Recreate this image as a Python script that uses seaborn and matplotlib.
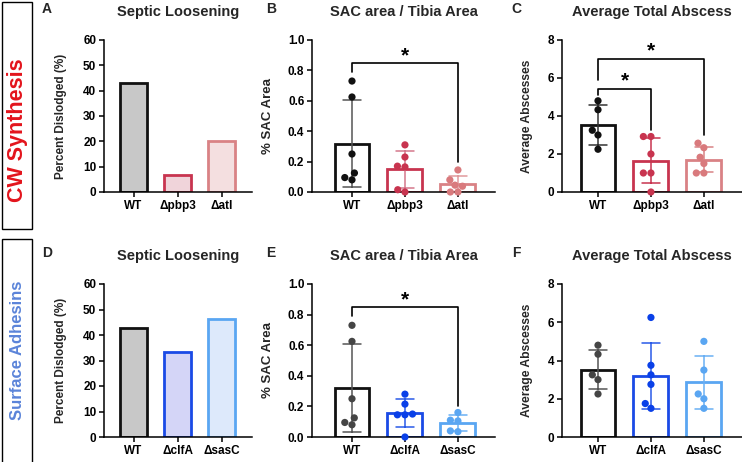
import numpy as np
import pandas as pd
import seaborn as sns
import matplotlib
matplotlib.use('Agg')
import matplotlib.pyplot as plt
from matplotlib.patches import Rectangle

# groups
groups_cw = ["WT", "Δpbp3", "Δatl"]
groups_adh = ["WT", "ΔclfA", "ΔsasC"]

# septic loosening (%)
loosening_cw = [42.9, 6.7, 20.0]
loosening_adh = [42.9, 33.3, 46.2]

# SAC area / tibia area
sac_wt = [0.73, 0.625, 0.25, 0.125, 0.08, 0.095]
sac_pbp3 = [0.31, 0.23, 0.17, 0.165, 0.0, 0.015]
sac_atl = [0.145, 0.08, 0.045, 0.038, 0.0, 0.0]
sac_clfa = [0.28, 0.215, 0.15, 0.145, 0.145, 0.0]
sac_sasc = [0.16, 0.11, 0.105, 0.04, 0.035]

# average total abscess
abs_wt = [4.8, 4.33, 3.25, 3.0, 2.25]
abs_pbp3 = [2.92, 2.92, 2.0, 1.0, 1.0, 0.0]
abs_atl = [2.33, 2.57, 1.83, 1.5, 1.0, 1.0]
abs_clfa = [6.25, 3.75, 3.25, 2.75, 1.75, 1.5]
abs_sasc = [5.0, 3.5, 2.25, 2.0, 1.5]

# significance brackets: (x1, x2, left leg bottom, top, right leg bottom, star y)
sac_brackets = [(0, 2, 0.79, 0.85, 0.20, 0.895)]
abs_brackets_cw = [(0, 1, 5.08, 5.43, 3.27, 5.85), (0, 2, 5.9, 7.0, 3.0, 7.45)]

# colours
fill_cw = ["#c8c8c8", "#f0d4da", "#f4dfe0"]
edge_cw = ["#111111", "#c8344f", "#d98285"]
dot_cw = ["#111111", "#c8344f", "#d97a7d"]
err_cw = ["#555555", "#d5788c", "#e09a9c"]
err_cw2 = ["#333333", "#c8344f", "#d98285"]
fill_adh = ["#c8c8c8", "#d4d5f7", "#dde9fb"]
edge_adh = ["#111111", "#1a4ae6", "#5aa6f2"]
dot_adh = ["#454545", "#0a40e8", "#5aa6f2"]
err_adh = ["#555555", "#2a5ae8", "#6ab0f4"]

sns.set_theme(style="ticks")
plt.rcParams['font.family'] = ['Liberation Sans', 'DejaVu Sans']
plt.rcParams['font.weight'] = 'bold'

W, H = 742, 462
fig = plt.figure(figsize=(W / 100, H / 100), dpi=100)


def px_axes(left, right, bottom, top):
    return fig.add_axes([left / W, 1 - bottom / H, (right - left) / W, (bottom - top) / H])


def finish(ax, xlim, ylim, yticks, fmt, ylabel, lab_x, lab_size):
    sns.despine(ax=ax)
    ax.set_xlim(*xlim)
    ax.set_ylim(*ylim)
    ax.set_yticks(yticks)
    ax.set_yticklabels([fmt.format(t) for t in yticks])
    ax.set_xlabel("")
    ax.set_ylabel(ylabel, fontsize=lab_size, fontweight='bold')
    ax.yaxis.set_label_coords(lab_x, 0.5)
    for s in ['left', 'bottom']:
        ax.spines[s].set_linewidth(1.1)
        ax.spines[s].set_color('black')
    ax.tick_params(length=3.5, width=1.1, labelsize=8.5, pad=2, colors='black')
    for lab in ax.get_xticklabels() + ax.get_yticklabels():
        lab.set_fontweight('bold')


def loosening_panel(ax, groups, values, fills, edges):
    df = pd.DataFrame({"group": groups, "value": values})
    sns.barplot(data=df, x="group", y="value", hue="group", palette=dict(zip(groups, fills)),
                width=0.62, errorbar=None, saturation=1, legend=False, ax=ax)
    for patch, ec in zip(ax.patches, edges):
        patch.set_edgecolor(ec)
        patch.set_linewidth(2)


def scatter_panel(ax, groups, samples, edges, dots, errs):
    df = pd.DataFrame({"group": np.repeat(groups, [len(s) for s in samples]),
                       "value": np.concatenate(samples)})
    sns.barplot(data=df, x="group", y="value", hue="group", palette=dict(zip(groups, ["white"] * 3)),
                width=0.66, errorbar="sd", capsize=0.35, err_kws={"linewidth": 1.1},
                saturation=1, legend=False, ax=ax)
    for patch, ec in zip(ax.patches, edges):
        patch.set_edgecolor(ec)
        patch.set_linewidth(2)
    for line, c in zip(ax.lines, errs):
        line.set_color(c)
        line.set_zorder(3)
    sns.swarmplot(data=df, x="group", y="value", hue="group", palette=dict(zip(groups, dots)),
                  size=5.2, legend=False, ax=ax, zorder=4)
    for coll in ax.collections:
        coll.set_clip_on(False)


def brackets(ax, specs, star_size=15):
    for x1, x2, y1, ytop, y2, ystar in specs:
        ax.plot([x1, x1, x2, x2], [y1, ytop, ytop, y2], color='black', lw=1.2, clip_on=False)
        ax.text((x1 + x2) / 2, ystar, "*", ha='center', va='center', fontsize=star_size,
                fontweight='bold', color='black')


rows = [
    (192, 40, groups_cw, loosening_cw, fill_cw, edge_cw,
     [sac_wt, sac_pbp3, sac_atl], dot_cw, err_cw,
     [abs_wt, abs_pbp3, abs_atl], err_cw2, sac_brackets, abs_brackets_cw, "ABC"),
    (437, 284, groups_adh, loosening_adh, fill_adh, edge_adh,
     [sac_wt, sac_clfa, sac_sasc], dot_adh, err_adh,
     [abs_wt, abs_clfa, abs_sasc], err_adh, sac_brackets, [], "DEF"),
]

for bottom, top, groups, loos, fills, edges, sac, dots, errs, absc, errs2, sb, ab, letters in rows:
    ax1 = px_axes(104, 252, bottom, top)
    loosening_panel(ax1, groups, loos, fills, edges)
    finish(ax1, (-0.67, 2.69), (0, 60), range(0, 61, 10), "{:d}", "Percent Dislodged (%)", -0.25, 8.5)
    ax1.set_title("Septic Loosening", fontsize=10.5, fontweight='bold', pad=17)

    ax2 = px_axes(312, 495, bottom, top)
    scatter_panel(ax2, groups, sac, edges, dots, errs)
    finish(ax2, (-0.755, 2.70), (0, 1.0), np.arange(0, 1.01, 0.2), "{:.1f}", "% SAC Area", -0.21, 9.5)
    ax2.set_title("SAC area / Tibia Area", fontsize=10.5, fontweight='bold', pad=17)
    brackets(ax2, sb)

    ax3 = px_axes(562, 742, bottom, top)
    scatter_panel(ax3, groups, absc, edges, dots, errs2)
    finish(ax3, (-0.68, 2.72), (0, 8), range(0, 9, 2), "{:d}", "Average Abscesses", -0.16, 8.7)
    ax3.set_title("Average Total Abscess", fontsize=10.5, fontweight='bold', pad=17)
    brackets(ax3, ab)

    ytxt = 1 - (top - 31) / H
    for x, letter in zip([47, 271, 516], letters):
        fig.text(x / W, ytxt, letter, fontsize=10, fontweight='bold', ha='center', va='center')

# side label boxes
fig.add_artist(Rectangle((2 / W, 1 - 229 / H), 30 / W, 227 / H, transform=fig.transFigure,
                         fill=False, edgecolor='black', lw=1))
fig.add_artist(Rectangle((2 / W, -0.05), 30 / W, (H - 239) / H + 0.05, transform=fig.transFigure,
                         fill=False, edgecolor='black', lw=1))
fig.text(18 / W, 1 - 130 / H, "CW Synthesis", rotation=90, color="#e3141c", fontsize=15.5,
         fontweight='bold', ha='center', va='center')
fig.text(18 / W, 1 - 350 / H, "Surface Adhesins", rotation=90, color="#5b84d9", fontsize=12,
         fontweight='bold', ha='center', va='center')

fig.savefig("out.png", dpi=100, facecolor='white')
